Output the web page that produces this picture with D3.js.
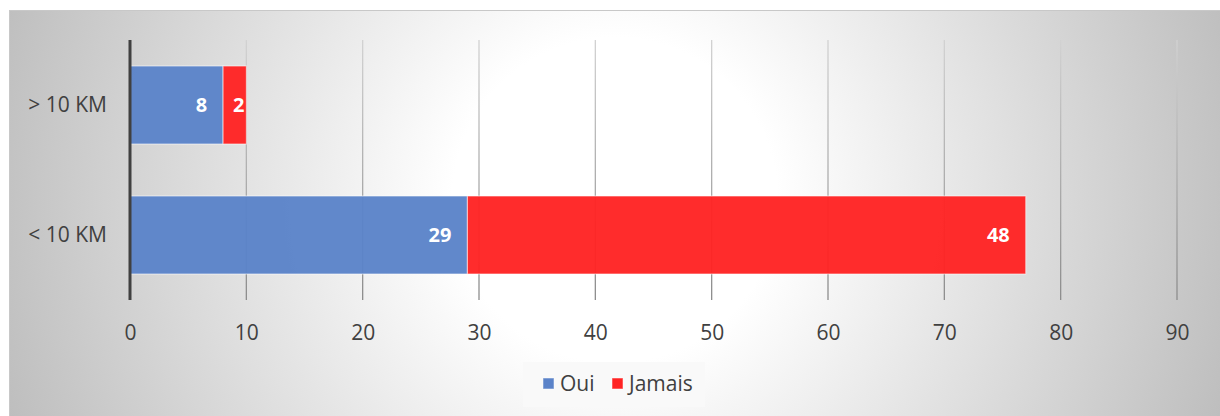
<!DOCTYPE html>
<html><head><meta charset="utf-8">
<script src="https://cdn.jsdelivr.net/npm/d3@7"></script>
<style>body{margin:0;background:#fff;}svg{display:block;font-family:"Open Sans",sans-serif;}</style>
</head><body>
<script>
const categories = ["> 10 KM", "< 10 KM"];
const seriesNames = ["Oui", "Jamais"];
const oui = [8, 29];
const jamais = [2, 48];
const xTicks = [0, 10, 20, 30, 40, 50, 60, 70, 80, 90];
const colors = ["#5b83c9", "#ff2323"];

const W = 1220, H = 416;
const svg = d3.select("body").append("svg").attr("width", W).attr("height", H);
const defs = svg.append("defs");
const rg = defs.append("radialGradient").attr("id", "bg")
  .attr("gradientUnits", "userSpaceOnUse").attr("cx", 615).attr("cy", 200).attr("r", 650);
rg.append("stop").attr("offset", "0").attr("stop-color", "#ffffff");
rg.append("stop").attr("offset", "0.25").attr("stop-color", "#ffffff");
rg.append("stop").attr("offset", "1").attr("stop-color", "#bdbdbd");

const gg = defs.append("linearGradient").attr("id", "grid")
  .attr("gradientUnits", "userSpaceOnUse").attr("x1", 0).attr("y1", 40).attr("x2", 0).attr("y2", 300);
gg.append("stop").attr("offset", "0").attr("stop-color", "#d2d2d2");
gg.append("stop").attr("offset", "1").attr("stop-color", "#8c8c8c");

svg.append("rect").attr("x", 9.5).attr("y", 10.5).attr("width", W - 9).attr("height", H - 10)
  .attr("fill", "url(#bg)").attr("stroke", "#c8c8c8").attr("stroke-width", 1);

const x = d3.scaleLinear().domain([0, 90]).range([130, 1177]);
const y = d3.scaleBand().domain(categories).range([40, 300]).paddingInner(0.4).paddingOuter(0.2);

// gridlines
svg.append("g").selectAll("rect").data(xTicks.filter(d => d > 0)).join("rect")
  .attr("x", d => x(d) - 0.65).attr("width", 1.3).attr("y", 40).attr("height", 260)
  .attr("fill", "url(#grid)");

const data = categories.map((c, i) => ({cat: c, Oui: oui[i], Jamais: jamais[i]}));
const stack = d3.stack().keys(seriesNames)(data);

const g = svg.append("g");
stack.forEach((s, si) => {
  g.append("g").selectAll("rect").data(s).join("rect")
    .attr("x", d => x(d[0])).attr("width", d => x(d[1]) - x(d[0]))
    .attr("y", d => y(d.data.cat)).attr("height", y.bandwidth())
    .attr("fill", colors[si]).attr("fill-opacity", 0.96)
    .attr("stroke", "#ffffff").attr("stroke-opacity", 0.6).attr("stroke-width", 1);
  g.append("g").selectAll("text").data(s).join("text")
    .attr("x", d => x(d[1]) - ((x(d[1]) - x(d[0])) > 40 ? 16 : 2))
    .attr("text-anchor", "end")
    .attr("y", d => y(d.data.cat) + y.bandwidth() / 2).attr("dy", "0.36em")
    .attr("fill", "#fff").attr("font-weight", "bold").attr("font-size", 20)
    .text(d => d[1] - d[0]);
});

// axis line
svg.append("line").attr("x1", x(0)).attr("x2", x(0)).attr("y1", 40).attr("y2", 300)
  .attr("stroke", "#404040").attr("stroke-width", 3);

// x tick labels
const xAxis = d3.axisBottom(x).tickValues(xTicks).tickSize(0).tickPadding(0);
const xa = svg.append("g").attr("transform", "translate(0,332)").call(xAxis);
xa.attr("font-size", null).attr("font-family", null);
xa.select(".domain").remove();
xa.selectAll("text").attr("font-size", 21).attr("fill", "#404040")
  .attr("dy", "0.36em").attr("y", 0);

// category labels
const yAxis = d3.axisLeft(y).tickSize(0).tickPadding(0);
const ya = svg.append("g").attr("transform", "translate(107,0)").call(yAxis);
ya.attr("font-size", null).attr("font-family", null);
ya.select(".domain").remove();
ya.selectAll("text").attr("font-size", 21).attr("fill", "#404040");

// legend
const lg = svg.append("g");
lg.append("rect").attr("x", 523).attr("y", 362).attr("width", 182).attr("height", 45).attr("fill", "#f9f9f9");
const items = [{n: "Oui", c: colors[0], x: 543}, {n: "Jamais", c: colors[1], x: 612}];
items.forEach(it => {
  lg.append("rect").attr("x", it.x).attr("y", 378).attr("width", 11).attr("height", 11)
    .attr("fill", it.c).attr("stroke", "#fff").attr("stroke-opacity", 0.5);
  lg.append("text").attr("x", it.x + 17).attr("y", 383).attr("dy", "0.36em")
    .attr("font-size", 21).attr("fill", "#404040").text(it.n);
});
</script>
</body></html>
